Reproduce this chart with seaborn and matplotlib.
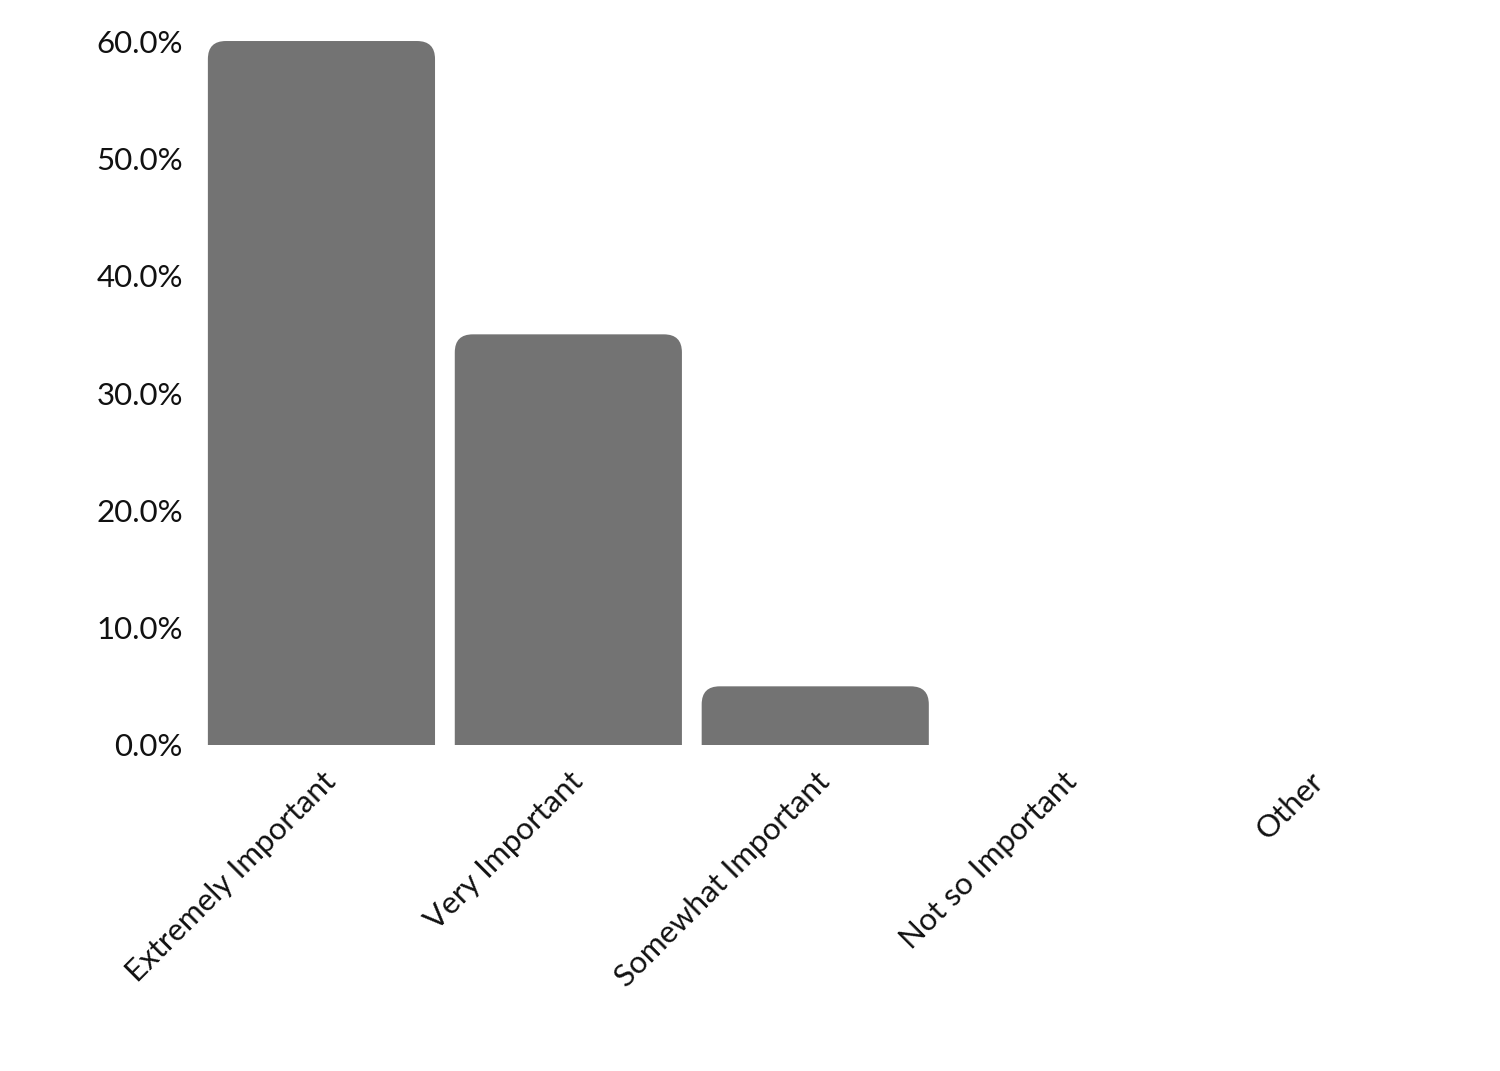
import matplotlib
matplotlib.use("Agg")
import matplotlib.pyplot as plt
import seaborn as sns
import pandas as pd
from matplotlib.patches import FancyBboxPatch
from matplotlib.ticker import FuncFormatter

categories = ["Extremely Important", "Very Important", "Somewhat Important", "Not so Important", "Other"]
values = [60.0, 35.0, 5.0, 0.0, 0.0]
y_ticks = [0, 10, 20, 30, 40, 50, 60]

sns.set_theme(style="white")
plt.rcParams['font.family'] = ['Lato', 'DejaVu Sans']

df = pd.DataFrame({"cat": categories, "val": values})

fig = plt.figure(figsize=(15, 10.71), dpi=100)
ax = fig.add_axes([0.132, 0.3044, 0.823, 0.6573])
sns.barplot(data=df, x="cat", y="val", color="#737373", width=0.92, saturation=1, ax=ax)
ax.set_ylim(0, 60)
ax.set_xlim(-0.5, len(categories) - 0.5)

fig.canvas.draw()
bbox = ax.get_window_extent()
x_px_per_unit = bbox.width / (len(categories))
y_px_per_unit = bbox.height / 60.0
aspect = (1 / y_px_per_unit) / (1 / x_px_per_unit)
radius_px = 18
r_x = radius_px / x_px_per_unit

for p in list(ax.patches):
    x0, w, h = p.get_x(), p.get_width(), p.get_height()
    p.remove()
    if h <= 0:
        continue
    extra = radius_px / y_px_per_unit
    fb = FancyBboxPatch((x0, -extra), w, h + extra,
                        boxstyle=f"round,pad=0,rounding_size={r_x}",
                        mutation_aspect=aspect,
                        facecolor="#737373", edgecolor="none", clip_on=True)
    ax.add_patch(fb)

ax.set_yticks(y_ticks)
ax.yaxis.set_major_formatter(FuncFormatter(lambda v, _: f"{v:.1f}%"))
ax.set_xlabel("")
ax.set_ylabel("")
for s in ax.spines.values():
    s.set_visible(False)
ax.tick_params(axis="y", length=0, labelsize=22.5, labelcolor="#111111", pad=11)
ax.tick_params(axis="x", length=0, labelsize=22.5, labelcolor="#111111", pad=16)
plt.setp(ax.get_xticklabels(), rotation=45, ha="right", va="top", rotation_mode="anchor")

fig.savefig("out.png", dpi=100, facecolor="white")
